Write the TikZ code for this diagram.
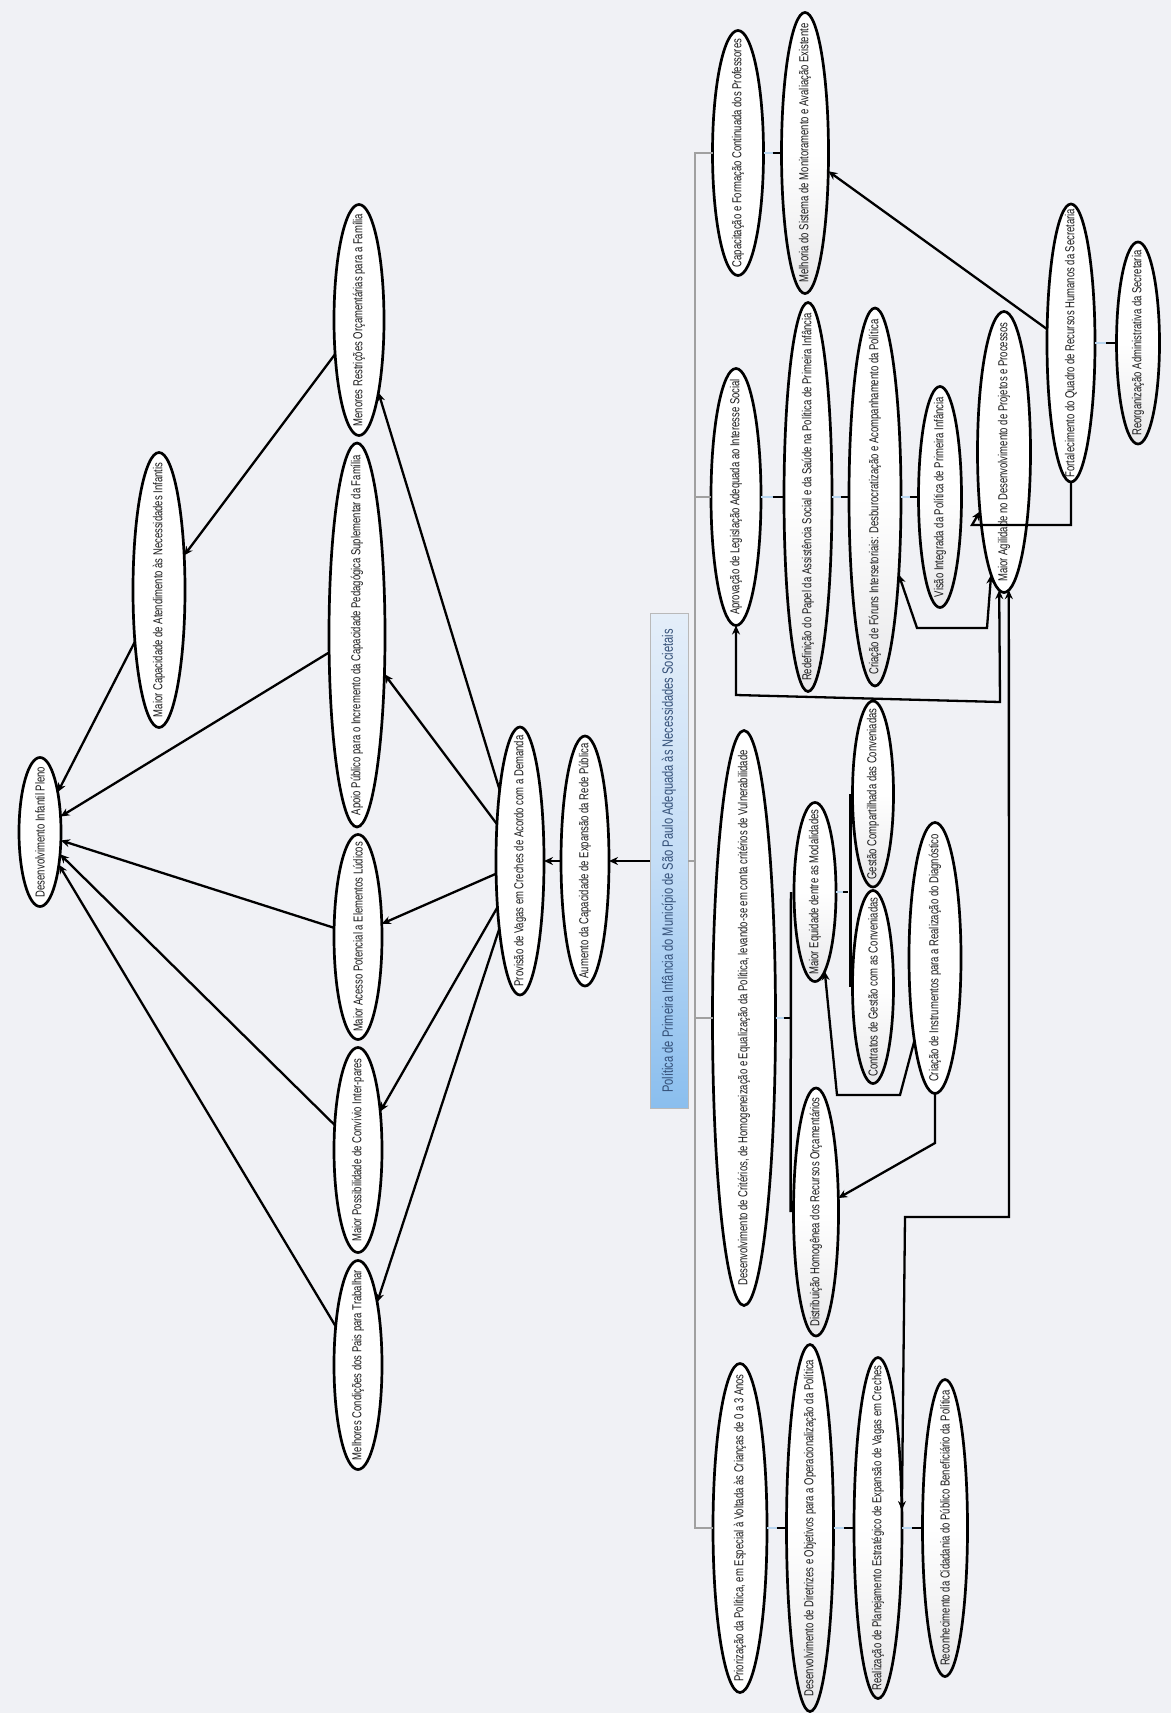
\documentclass[tikz,border=0pt]{standalone}
\usepackage{fontspec}
\newfontfamily\nfont{Liberation Sans}[FakeStretch=0.73]
\newfontfamily\tfont{Liberation Sans}[FakeStretch=0.74]
\usetikzlibrary{arrows.meta,calc,shapes.geometric}
\definecolor{bg}{RGB}{240,241,245}
\definecolor{stubblue}{RGB}{185,214,240}
\definecolor{treegray}{RGB}{160,160,160}
\definecolor{titletext}{RGB}{52,80,120}
\definecolor{tlight}{RGB}{228,238,249}
\definecolor{tmid}{RGB}{196,221,246}
\definecolor{tdark}{RGB}{138,190,238}
\definecolor{elgray}{RGB}{232,232,234}
\newcommand\elnode[6][]{\node[elnode, minimum width=#4pt, minimum height=#5pt, #1] (#2) at (#3) {\makebox[0pt]{#6}};}
\newcommand\stubpair[2]{%
  \draw[stuba] (#1.south) -- ($(#1.south)!0.5!(#2.north)$);
  \draw[stubb] ($(#1.south)!0.5!(#2.north)$) -- (#2.north);}
\begin{document}
\begin{tikzpicture}[x=1pt,y=-1pt,
  elnode/.style={ellipse, draw=black, line width=2.7pt, fill=white, rotate=90,
    inner sep=0pt, outer sep=0pt, font=\nfont\fontsize{13}{14}\selectfont, text=black!90},
  shd/.style={top color=white, bottom color=elgray, middle color=white},
  titlebox/.style={rotate=90, draw=gray!55, line width=0.8pt, top color=tlight,
    bottom color=tdark, middle color=tmid, minimum width=495pt, minimum height=38pt,
    inner sep=0pt, font=\tfont\fontsize{15}{17}\selectfont, text=titletext},
  arr/.style={line width=2.3pt, -{Stealth[length=9pt,width=8pt]}},
  arrb/.style={line width=2.3pt, {Stealth[length=9pt,width=8pt]}-{Stealth[length=9pt,width=8pt]}},
  tree/.style={draw=treegray, line width=1.3pt},
  stuba/.style={draw=stubblue, line width=2.5pt},
  stubb/.style={draw=black, line width=2.5pt},
]
\useasboundingbox (0,0) rectangle (1171,1713);
\fill[bg] (0,0) rectangle (1171,1713);

% title
\node[titlebox] (T) at (669,861) {Política de Primeira Infância do Município de São Paulo Adequada às Necessidades Societais};

% left part
\elnode{DIP}{40,832}{149}{42}{Desenvolvimento Infantil Pleno}
\elnode{MC}{159,590}{275}{52}{Maior Capacidade de Atendimento às Necessidades Infantis}
\elnode{MR}{359,320}{231}{50}{Menores Restrições Orçamentárias para a Família}
\elnode{AP}{357,635}{384}{56}{Apoio Público para o Incremento da Capacidade Pedagógica Suplementar da Família}
\elnode{MA}{358,937}{205}{48}{Maior Acesso Potencial a Elementos Lúdicos}
\elnode{MP}{358,1150}{205}{48}{Maior Possibilidade de Convívio Inter-pares}
\elnode{MCP}{358,1365}{209}{48}{Melhores Condições dos Pais para Trabalhar}
\elnode{PV}{520,861}{268}{48}{Provisão de Vagas em Creches de Acordo com a Demanda}
\elnode{AC}{585,861}{250}{48}{Aumento da Capacidade de Expansão da Rede Pública}

% right part
\elnode{CFP}{738,153}{245}{51}{Capacitação e Formação Continuada dos Professores}
\elnode[shd]{MSM}{805,153}{281}{47}{Melhoria do Sistema de Monitoramento e Avaliação Existente}
\elnode{FQR}{1071,343}{278}{48}{Fortalecimento do Quadro de Recursos Humanos da Secretaria}
\elnode[shd]{RAS}{1138,343}{202}{43}{Reorganização Administrativa da Secretaria}
\elnode{ALA}{736,497}{257}{50}{Aprovação de Legislação Adequada ao Interesse Social}
\elnode[shd]{RPA}{808,497}{389}{48}{Redefinição do Papel da Assistência Social e da Saúde na Política de Primeira Infância}
\elnode[shd]{CFI}{875,497}{378}{52}{Criação de Fóruns Intersetoriais: Desburocratização e Acompanhamento da Política}
\elnode[shd]{VIP}{940,497}{221}{43}{Visão Integrada da Política de Primeira Infância}
\elnode{MAD}{1004,452}{281}{53}{Maior Agilidade no Desenvolvimento de Projetos e Processos}
\elnode{DCH}{744,1018}{575}{63}{Desenvolvimento de Critérios, de Homogeneização e Equalização da Política, levando-se em conta critérios de Vulnerabilidade}
\elnode[shd]{MEM}{815,892}{179}{42}{Maior Equidade dentre as Modalidades}
\elnode[shd]{DHR}{816,1212}{248}{45}{Distribuição Homogênea dos Recursos Orçamentários}
\elnode[shd]{GCC}{873,794}{186}{41}{Gestão Compartilhada das Conveniadas}
\elnode[shd]{CGC}{873,987}{193}{41}{Contratos de Gestão com as Conveniadas}
\elnode{CIR}{935,958}{271}{52}{Criação de Instrumentos para a Realização do Diagnóstico}
\elnode{PPE}{740,1528}{329}{54}{Priorização da Política, em Especial à Voltada às Crianças de 0 a 3 Anos}
\elnode[shd]{DDO}{810,1528}{367}{47}{Desenvolvimento de Diretrizes e Objetivos para a Operacionalização da Política}
\elnode[shd]{RPE}{878,1528}{341}{48}{Realização de Planejamento Estratégico de Expansão de Vagas em Creches}
\elnode[shd]{RCP}{945,1528}{297}{45}{Reconhecimento da Cidadania do Público Beneficiário da Política}

% mind-map tree
\coordinate (trunk) at (695,861);
\draw[tree] (T.south) -- (trunk);
\draw[tree] (trunk) |- (CFP.north);
\draw[tree] (trunk) |- (ALA.north);
\draw[tree] (trunk) |- (DCH.north);
\draw[tree] (trunk) |- (PPE.north);

\stubpair{CFP}{MSM}
\stubpair{FQR}{RAS}
\stubpair{ALA}{RPA}
\stubpair{RPA}{CFI}
\stubpair{CFI}{VIP}
\stubpair{PPE}{DDO}
\stubpair{DDO}{RPE}
\stubpair{RPE}{RCP}

\draw[stuba] (DCH.south) -- ++(8,0);
\draw[stubb] ($(DCH.south)+(8,0)$) -- ++(6,0);
\draw[stubb] ($(MEM.north)+(-3,0)$) -- ($(DHR.north)+(-3,0)$);
\draw[stuba] (MEM.south) -- ++(7,0);
\draw[stubb] ($(MEM.south)+(7,0)$) -- ++(5,0);
\draw[stubb] ($(GCC.north)+(-2,0)$) -- ($(CGC.north)+(-2,0)$);

% left arrows
\draw[arr] (T.north) -- (AC.south);
\draw[arr] (AC.north) -- (PV.south);
\draw[arr] (PV.16) -- (MR.195);
\draw[arr] (PV.32) -- (AP.215);
\draw[arr] (PV.118) -- (MA.299);
\draw[arr] (PV.154) -- (MP.330);
\draw[arr] (PV.163) -- (MCP.343);
\draw[arr] (MR.145) -- (MC.324);
\draw[arr] (MC.155) -- (DIP.336);
\draw[arr] (AP.122) -- (DIP.307);
\draw[arr] (MA.69) -- (DIP.248);
\draw[arr] (MP.43) -- (DIP.222);
\draw[arr] (MCP.30) -- (DIP.210);

% right arrows
\draw[arr] (FQR.60) -- (MSM.232);
\draw[arr] (FQR.west) |- (972,525) -- (MAD.158);
\draw[arrb] (CFI.197) -- (917,628) -- (987,628) -- (MAD.174);
\draw[arrb] (ALA.west) -- (736,695) -- (1000,702) -- (MAD.178);
\draw[arrb] (MAD.182) -- (1009,1217) -- (905,1217) -- (RPE.307);
\draw[arr] (CIR.166) -- (900,1095) -- (837,1095) -- (MEM.187);
\draw[arr] (CIR.west) -- (935,1143) -- (DHR.302);
\end{tikzpicture}
\end{document}
